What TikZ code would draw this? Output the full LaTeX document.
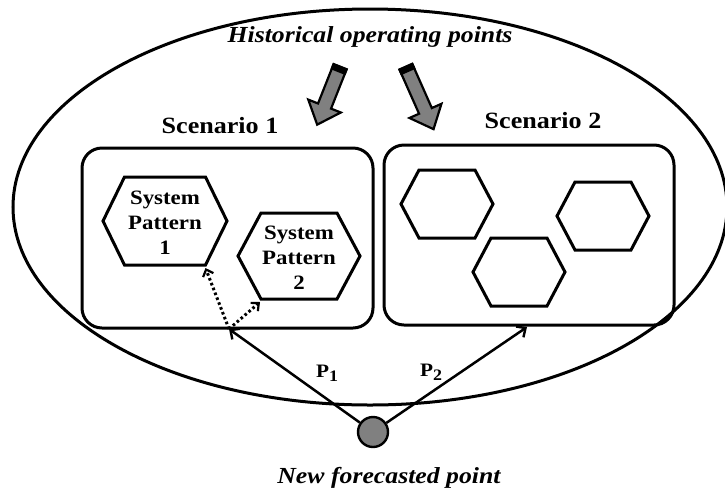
\documentclass[tikz,border=0pt]{standalone}
\usepackage{fontspec}
\setmainfont{Liberation Serif}[FakeStretch=1.12]
\usetikzlibrary{arrows.meta,calc}
\definecolor{arrowgray}{HTML}{808080}
\tikzset{
  outline/.style={line width=3pt},
  scenbox/.style={outline, rounded corners=20pt},
  hexline/.style={line width=3pt, line join=miter},
  title/.style={font=\fontsize{23}{26}\selectfont\bfseries\itshape, anchor=base},
  scentitle/.style={font=\fontsize{23.3}{26}\selectfont\bfseries, anchor=base},
  hextext/.style={font=\fontsize{20.4}{25}\selectfont\bfseries, align=center},
  plabel/.style={font=\fontsize{19}{20}\selectfont\bfseries, anchor=base},
  link/.style={line width=2.5pt, -{Straight Barb[length=7pt,width=13pt,line width=2.4pt]}},
  dotlink/.style={line width=3pt, dash pattern=on 2.6pt off 2.6pt, -{Straight Barb[length=6pt,width=11pt,line width=2.2pt]}},
  blockarrow/.style={fill=arrowgray, draw=black, line width=2.2pt, line join=miter},
}
\newcommand{\mysub}[1]{\raisebox{-4pt}{\fontsize{16}{16}\selectfont #1}}
% hexagon: #1 name, #2 center, #3 half width, #4 half height, #5 half top edge
\newcommand{\myhex}[5]{%
  \coordinate (#1) at #2;
  \draw[hexline] ($(#1)+(-#3,0)$) coordinate (#1-w) -- ($(#1)+(-#5,#4)$) coordinate (#1-nw)
    -- ($(#1)+(#5,#4)$) coordinate (#1-ne) -- ($(#1)+(#3,0)$) coordinate (#1-e)
    -- ($(#1)+(#5,-#4)$) coordinate (#1-se) -- ($(#1)+(-#5,-#4)$) coordinate (#1-sw) -- cycle;
}
% block arrow: #1 tail, #2 angle, #3 length
\newcommand{\myblockarrow}[3]{%
  \begin{scope}[shift={#1}, rotate=#2]
    \draw[blockarrow] (0,-7) -- (#3-20,-7) -- (#3-20,-17.5) -- (#3,0) -- (#3-20,17.5) -- (#3-20,7) -- (0,7) -- cycle;
    \fill[black] (-1.5,-8.1) rectangle (5.5,8.1);
  \end{scope}
}
\begin{document}
\begin{tikzpicture}[x=1pt,y=1pt]
\useasboundingbox (0,0) rectangle (725,-491);
% outer ellipse
\draw[outline] (370,-207) ellipse [x radius=357, y radius=198];
% title
\node[title] (hist) at (370,-42) {Historical operating points};
% block arrows
\myblockarrow{(340,-67)}{248.4}{62}
\myblockarrow{(406,-67)}{-66.1}{68}
% scenario boxes
\draw[scenbox] (82,-148) rectangle (373,-328);
\draw[scenbox] (384,-145) rectangle (674,-325);
\node[scentitle] (s1) at (220,-133) {Scenario 1};
\node[scentitle] (s2) at (543,-128) {Scenario 2};
% hexagons
\myhex{h1}{(165,-221)}{62}{44}{40.5}
\myhex{h2}{(299,-256)}{61}{43}{38}
\myhex{h3}{(447,-204)}{46}{34}{28}
\myhex{h4}{(603,-216)}{46}{34}{28}
\myhex{h5}{(519,-272)}{46}{34}{28}
\node[hextext] (t1) at (165,-223) {System\\Pattern\\1};
\node[hextext] (t2) at (299,-258) {System\\Pattern\\2};
% new point
\node[circle, fill=arrowgray, draw=black, line width=2.4pt, minimum size=30pt, inner sep=0pt] (np) at (373,-432) {};
\node[title] (nfp) at (389,-483) {New forecasted point};
\coordinate (e1) at (229,-329);
\coordinate (e2) at (527,-327);
\draw[link] (np) -- (e1);
\draw[link] (np) -- (e2);
\draw[dotlink] (e1) -- ($(h1-se)+(0,-3)$);
\draw[dotlink] (e1) -- ($(h2-sw)+(-1,-3)$);
\node[plabel] (p1) at (327,-377) {P\mysub{1}};
\node[plabel] (p2) at (431,-376) {P\mysub{2}};
\end{tikzpicture}
\end{document}
